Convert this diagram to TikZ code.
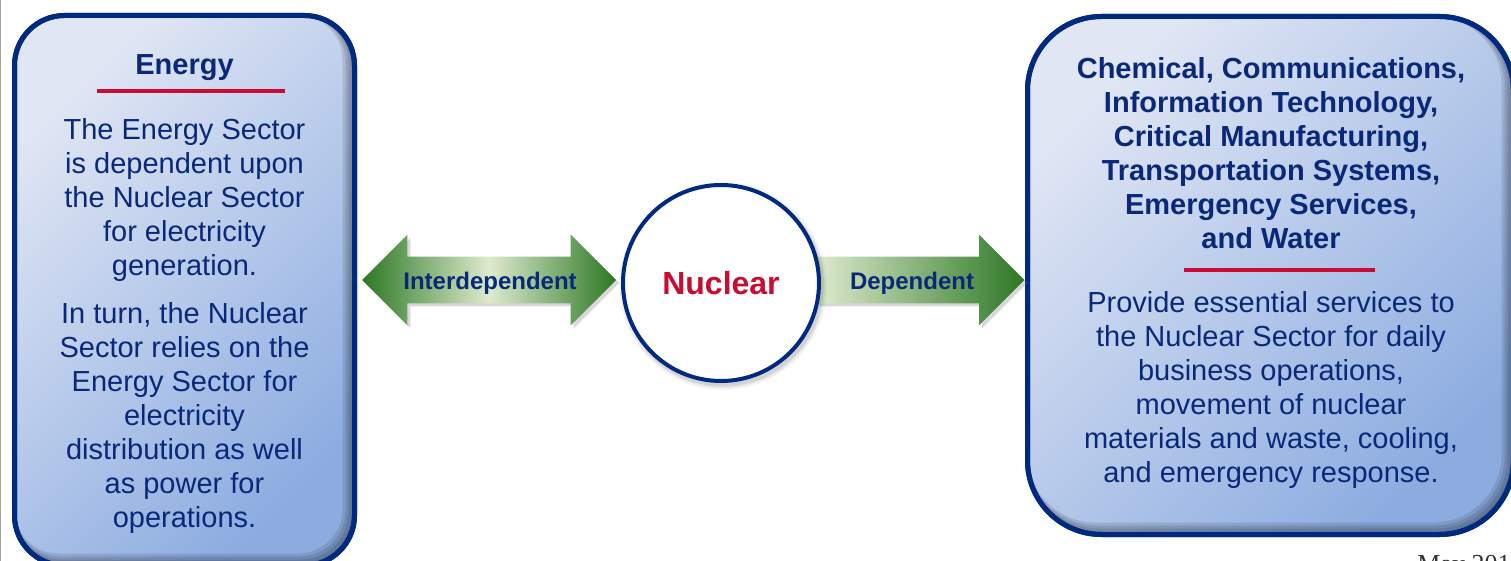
\documentclass[tikz,border=0pt]{standalone}
\usepackage{fontspec}
\setmainfont{Liberation Sans}
\newfontfamily\serifm{Liberation Serif}
\usetikzlibrary{shapes.arrows,shadows}
\definecolor{navy}{RGB}{0,42,128}
\definecolor{txtnavy}{RGB}{10,40,120}
\definecolor{redline}{RGB}{200,12,50}
\definecolor{boxlight}{RGB}{224,230,244}
\definecolor{boxdark}{RGB}{140,172,224}
\definecolor{gdark}{RGB}{44,120,36}
\definecolor{glight}{RGB}{222,234,206}
\tikzset{
 sector/.style={draw=navy, line width=2.5pt, top color=boxlight, bottom color=boxdark, shading angle=45, outer sep=0pt, inner sep=0pt},
 body/.style={text=txtnavy, align=center, inner sep=0pt, anchor=north, font=\fontsize{14.5}{17}\selectfont},
 titletext/.style={body, font=\fontsize{14.5}{17}\selectfont\bfseries},
 sepline/.style={draw=redline, line width=1.75pt},
 arrowlbl/.style={text=txtnavy, font=\fontsize{12}{14}\selectfont\bfseries, inner sep=0pt},
 softshadow/.style={drop shadow={opacity=0.3, shadow xshift=1.5pt, shadow yshift=-1.5pt}},
 bevel/.style={black, opacity=0.11},
}
\begin{document}
\begin{tikzpicture}[x=0.5pt,y=-0.5pt]
\useasboundingbox (0,0) rectangle (1511,561);
\fill[white] (0,0) rectangle (1511,561);
\draw[gray!70, line width=0.5pt] (0.5,0) -- (0.5,561);

% left box
\node[sector, rounded corners=25pt, minimum width=170pt, minimum height=275pt] (energy) at (184.5,290.5) {};
\begin{scope}
\clip[rounded corners=25pt] (energy.south west) rectangle (energy.north east);
\foreach \w/\lw in {3/1.5pt,6/3pt,9/4.5pt,12/6pt}
  \draw[bevel, line width=\lw, rounded corners=25pt] ([shift={(-\w/2,-\w/2)}]energy.south west) rectangle ([shift={(-\w/2,-\w/2)}]energy.north east);
\end{scope}
\draw[navy, line width=2.5pt, rounded corners=25pt] (energy.south west) rectangle (energy.north east);

% right box
\node[sector, rounded corners=37pt, minimum width=243pt, minimum height=259pt] (others) at (1270.5,275.5) {};
\begin{scope}
\clip[rounded corners=37pt] (others.south west) rectangle (others.north east);
\foreach \w/\lw in {3/1.5pt,6/3pt,9/4.5pt,12/6pt}
  \draw[bevel, line width=\lw, rounded corners=37pt] ([shift={(-\w/2,-\w/2)}]others.south west) rectangle ([shift={(-\w/2,-\w/2)}]others.north east);
\end{scope}
\draw[navy, line width=2.5pt, rounded corners=37pt] (others.south west) rectangle (others.north east);

% left texts
\node[titletext] (etitle) at (184.5,54) {Energy};
\coordinate (el1) at (97,91);
\coordinate (el2) at (285,91);
\draw[sepline] (el1) -- (el2);
\node[body] (ebody) at (184.5,118) {The Energy Sector\\is dependent upon\\the Nuclear Sector\\for electricity\\generation.\\[7pt]In turn, the Nuclear\\Sector relies on the\\Energy Sector for\\electricity\\distribution as well\\as power for\\operations.};

% right texts
\node[titletext] (otitle) at (1271,57) {Chemical, Communications,\\Information Technology,\\Critical Manufacturing,\\Transportation Systems,\\Emergency Services,\\and Water};
\coordinate (ol1) at (1184,270);
\coordinate (ol2) at (1375,270);
\draw[sepline] (ol1) -- (ol2);
\node[body] (obody) at (1271,291) {Provide essential services to\\the Nuclear Sector for daily\\business operations,\\movement of nuclear\\materials and waste, cooling,\\and emergency response.};

% arrows
\node[double arrow, double arrow tip angle=90, double arrow head extend=11pt, double arrow head indent=0pt,
      minimum height=127pt, inner xsep=0pt, inner ysep=11.5pt,
      left color=gdark, right color=gdark, middle color=glight, softshadow] (inter) at (489,280) {};
\node[single arrow, single arrow tip angle=90, single arrow head extend=11pt, single arrow head indent=0pt,
      minimum height=104pt, inner xsep=0pt, inner ysep=11.5pt, anchor=tail,
      left color=glight, right color=gdark, softshadow] (dep) at (816,280) {};

% nuclear circle
\foreach \r/\op in {104/0.04,102/0.06,100.5/0.08}
  \fill[black, opacity=\op] (723,286) circle[radius=\r];
\node[circle, draw=navy, line width=2pt, fill=white, minimum size=98pt, inner sep=0pt,
      text=redline, font=\fontsize{16}{19}\selectfont\bfseries] (nuc) at (721,283) {Nuclear};

\node[arrowlbl] (interlbl) at (490,283) {Interdependent};
\node[arrowlbl] (deplbl) at (912,283) {Dependent};

\node[anchor=north west, inner sep=0pt, font=\serifm\fontsize{13}{15}\selectfont, text=black!80] (date) at (1417,555) {May 201};
\end{tikzpicture}
\end{document}
